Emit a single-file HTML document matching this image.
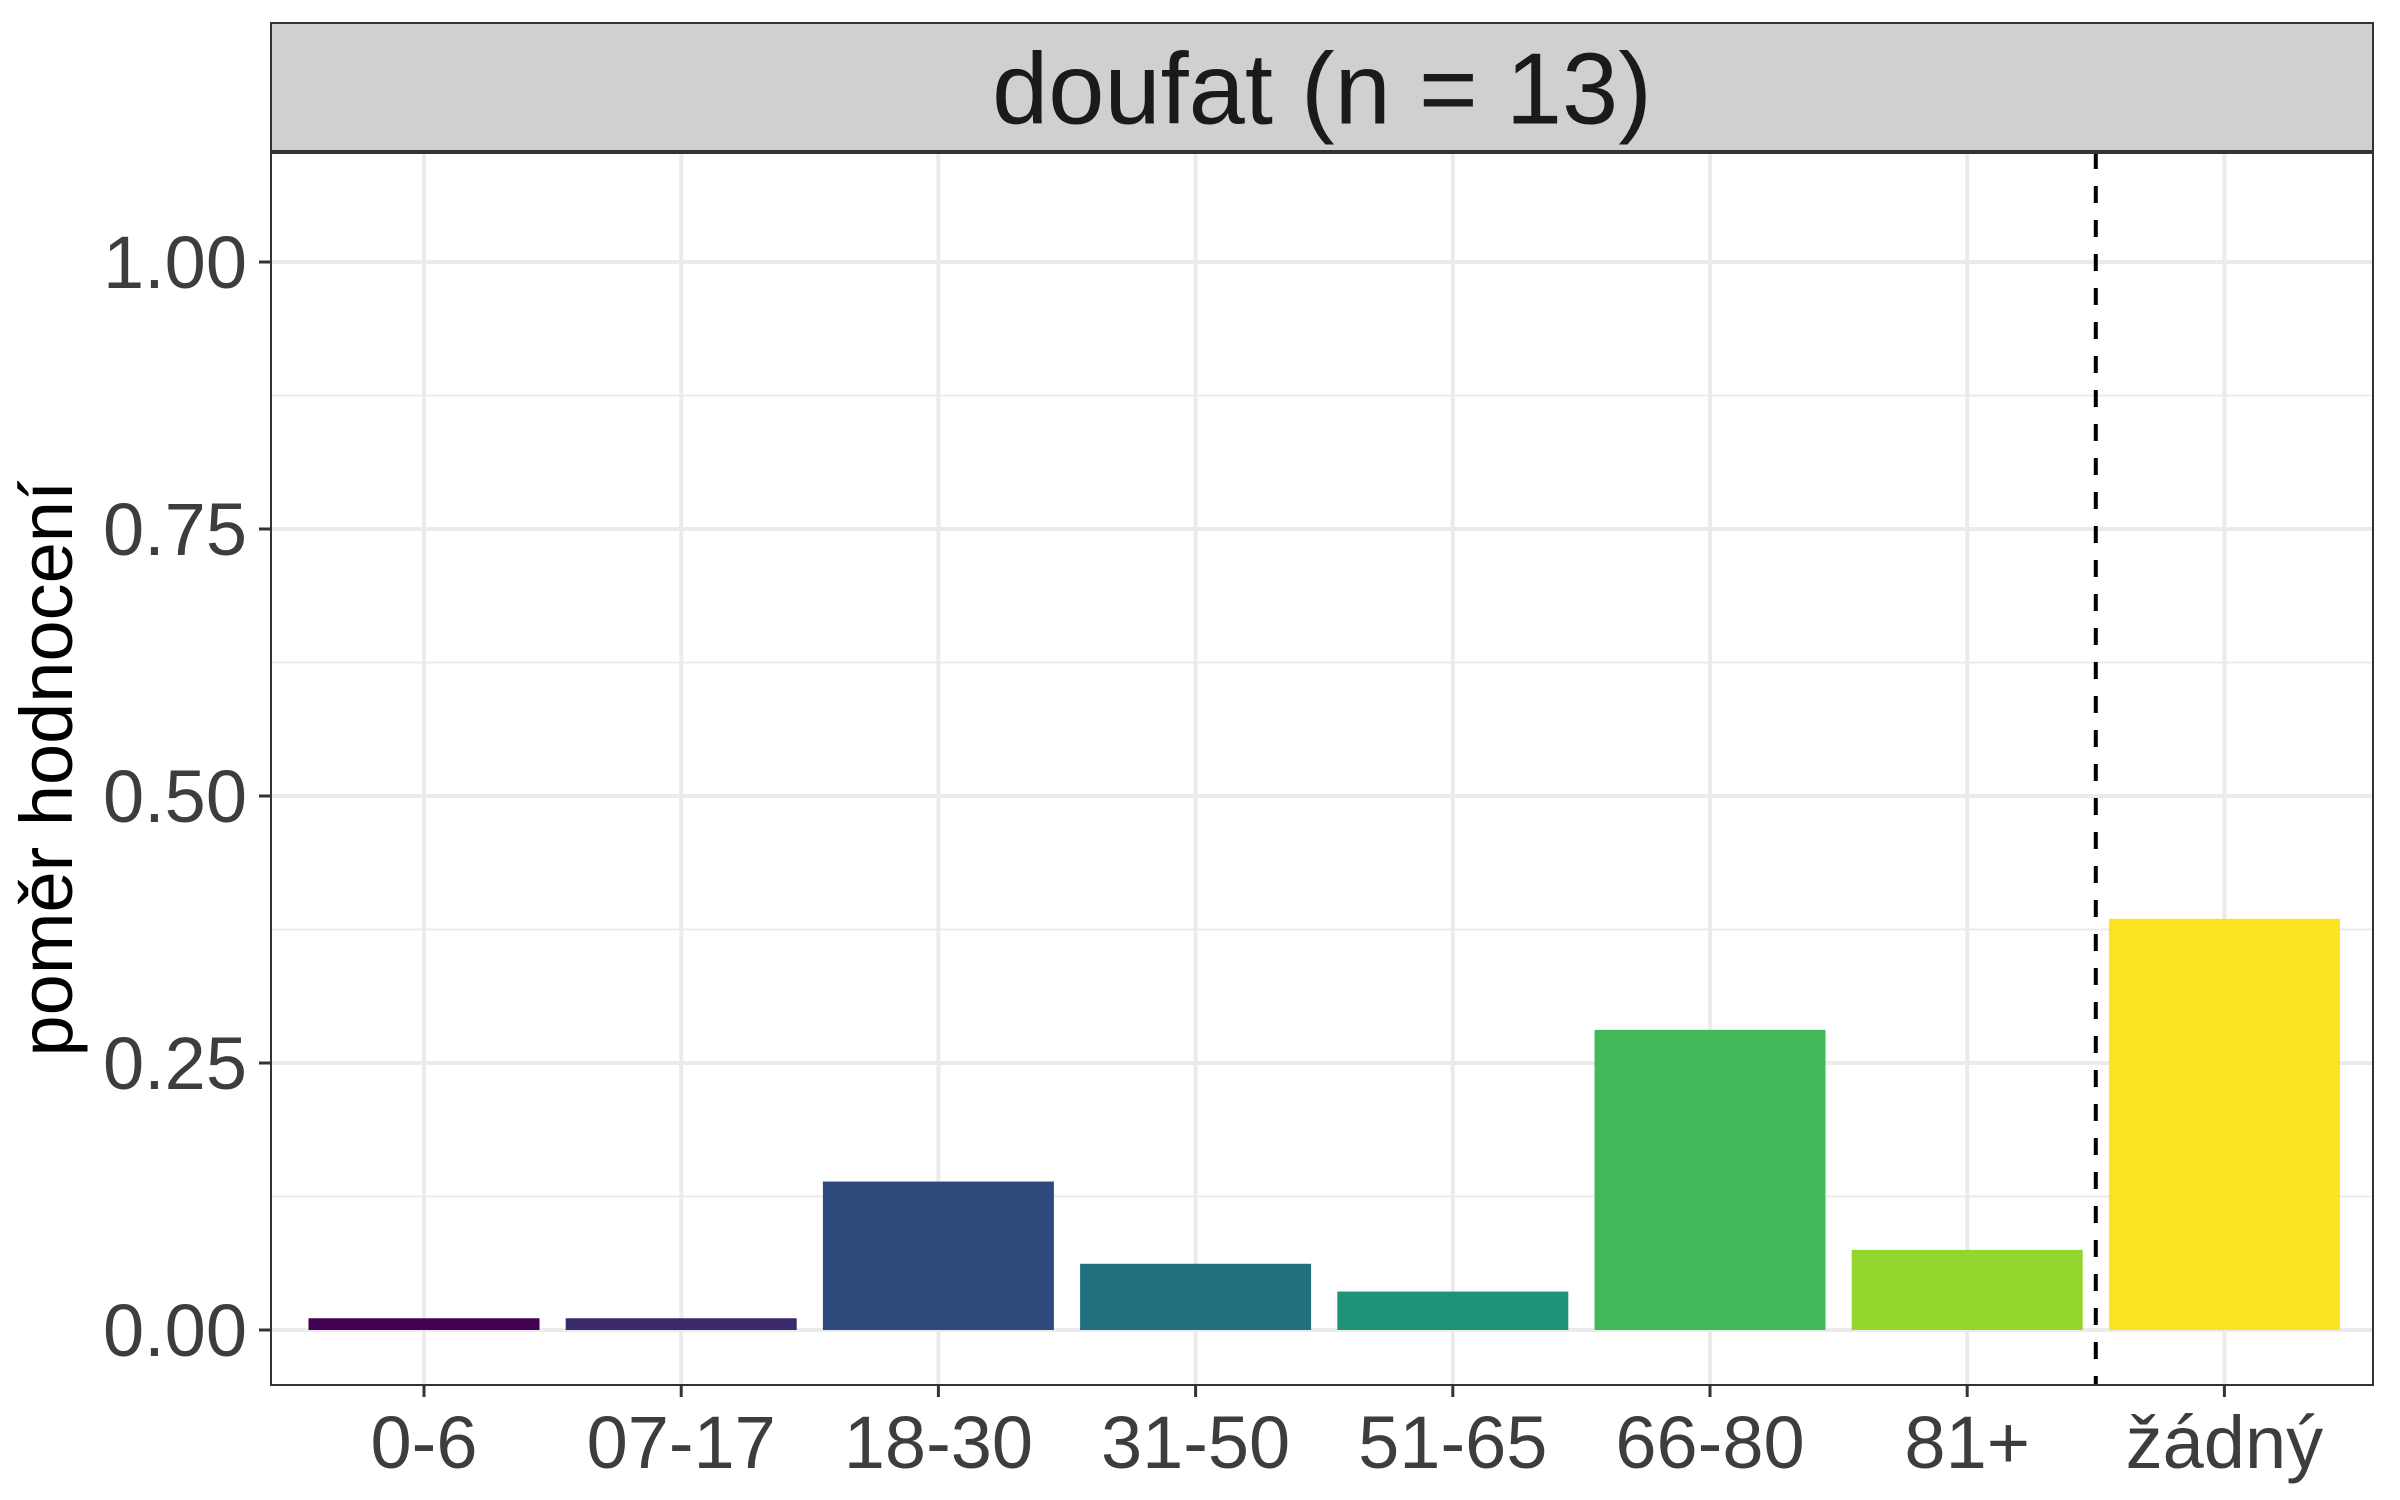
<!DOCTYPE html>
<html><head><meta charset="utf-8"><style>
html,body{margin:0;padding:0;background:#fff;}
svg{display:block;font-family:"Liberation Sans",Arial,sans-serif;}
</style></head><body>
<svg id="chart" width="2400" height="1500" viewBox="0 0 2400 1500" xmlns="http://www.w3.org/2000/svg"></svg>
<script>
const categories = ["0-6","07-17","18-30","31-50","51-65","66-80","81+","žádný"];
const values = [0.011,0.011,0.139,0.062,0.036,0.281,0.075,0.385];
const colors = ["#440154","#3b2a6b","#2c4a7b","#21707f","#1f9378","#41b85a","#93d72e","#fbe31f"];
const yTicks = [0,0.25,0.5,0.75,1.0];
const yTickLabels = ["0.00","0.25","0.50","0.75","1.00"];
const yMinor = [0.125,0.375,0.625,0.875];
const stripTitle = "doufat (n = 13)";

const NS="http://www.w3.org/2000/svg";
const svg=document.getElementById('chart');
const L=271,R=2373,T=23,SB=152,B=1385;
const y0px=1330,y1px=262;
function yScale(v){return y0px+(y1px-y0px)*v;}
const step=257.2;
function xScale(i){return 424+step*i;}
const barW=231;
function mk(tag,attrs,parent){const e=document.createElementNS(NS,tag);for(const k in attrs)e.setAttribute(k,attrs[k]);(parent||svg).appendChild(e);return e;}

const bg=mk('rect',{x:L,y:SB,width:R-L,height:B-SB,fill:'#fff'});


yMinor.forEach(v=>{const g=mk('line',{x1:L,x2:R,y1:yScale(v),y2:yScale(v),stroke:'#ebebeb','stroke-width':2});

});
yTicks.forEach(v=>{const g=mk('line',{x1:L,x2:R,y1:yScale(v),y2:yScale(v),stroke:'#ebebeb','stroke-width':4});

});
categories.forEach((c,i)=>{const g=mk('line',{x1:xScale(i),x2:xScale(i),y1:SB,y2:B,stroke:'#ebebeb','stroke-width':4});

});
categories.forEach((c,i)=>{const v=values[i];
const r=mk('rect',{x:xScale(i)-barW/2,y:yScale(v),width:barW,height:yScale(0)-yScale(v),fill:colors[i]});

});
const dx=(xScale(6)+xScale(7))/2;
const d=mk('line',{x1:dx,x2:dx,y1:SB,y2:B,stroke:'#000','stroke-width':4,'stroke-dasharray':'17,17'});


const s=mk('rect',{x:L,y:T,width:R-L,height:SB-T,fill:'#d0d0d0',stroke:'#333','stroke-width':2});


const st=mk('text',{x:(L+R)/2,y:T+(SB-T)/2+36,'text-anchor':'middle','font-size':101,fill:'#1a1a1a'});
st.textContent=stripTitle;


const pb=mk('rect',{x:L,y:SB,width:R-L,height:B-SB,fill:'none',stroke:'#333','stroke-width':2});


mk('line',{x1:L,x2:R,y1:SB,y2:SB,stroke:'#333','stroke-width':4});
yTicks.forEach((v,i)=>{mk('line',{x1:L-12,x2:L,y1:yScale(v),y2:yScale(v),stroke:'#333','stroke-width':3});
const t=mk('text',{x:L-24,y:yScale(v)+26,'text-anchor':'end','font-size':74,fill:'#3d3d3d'});
t.textContent=yTickLabels[i];

});
categories.forEach((c,i)=>{mk('line',{x1:xScale(i),x2:xScale(i),y1:B,y2:B+12,stroke:'#333','stroke-width':3});
const t=mk('text',{x:xScale(i),y:1468,'text-anchor':'middle','font-size':74,fill:'#3d3d3d'});
t.textContent=c;

});
const yt=mk('text',{x:0,y:0,transform:'translate(72,'+((SB+B)/2)+') rotate(-90)','text-anchor':'middle','font-size':74,fill:'#000'});
yt.textContent='poměr hodnocení';


</script>
</body></html>
